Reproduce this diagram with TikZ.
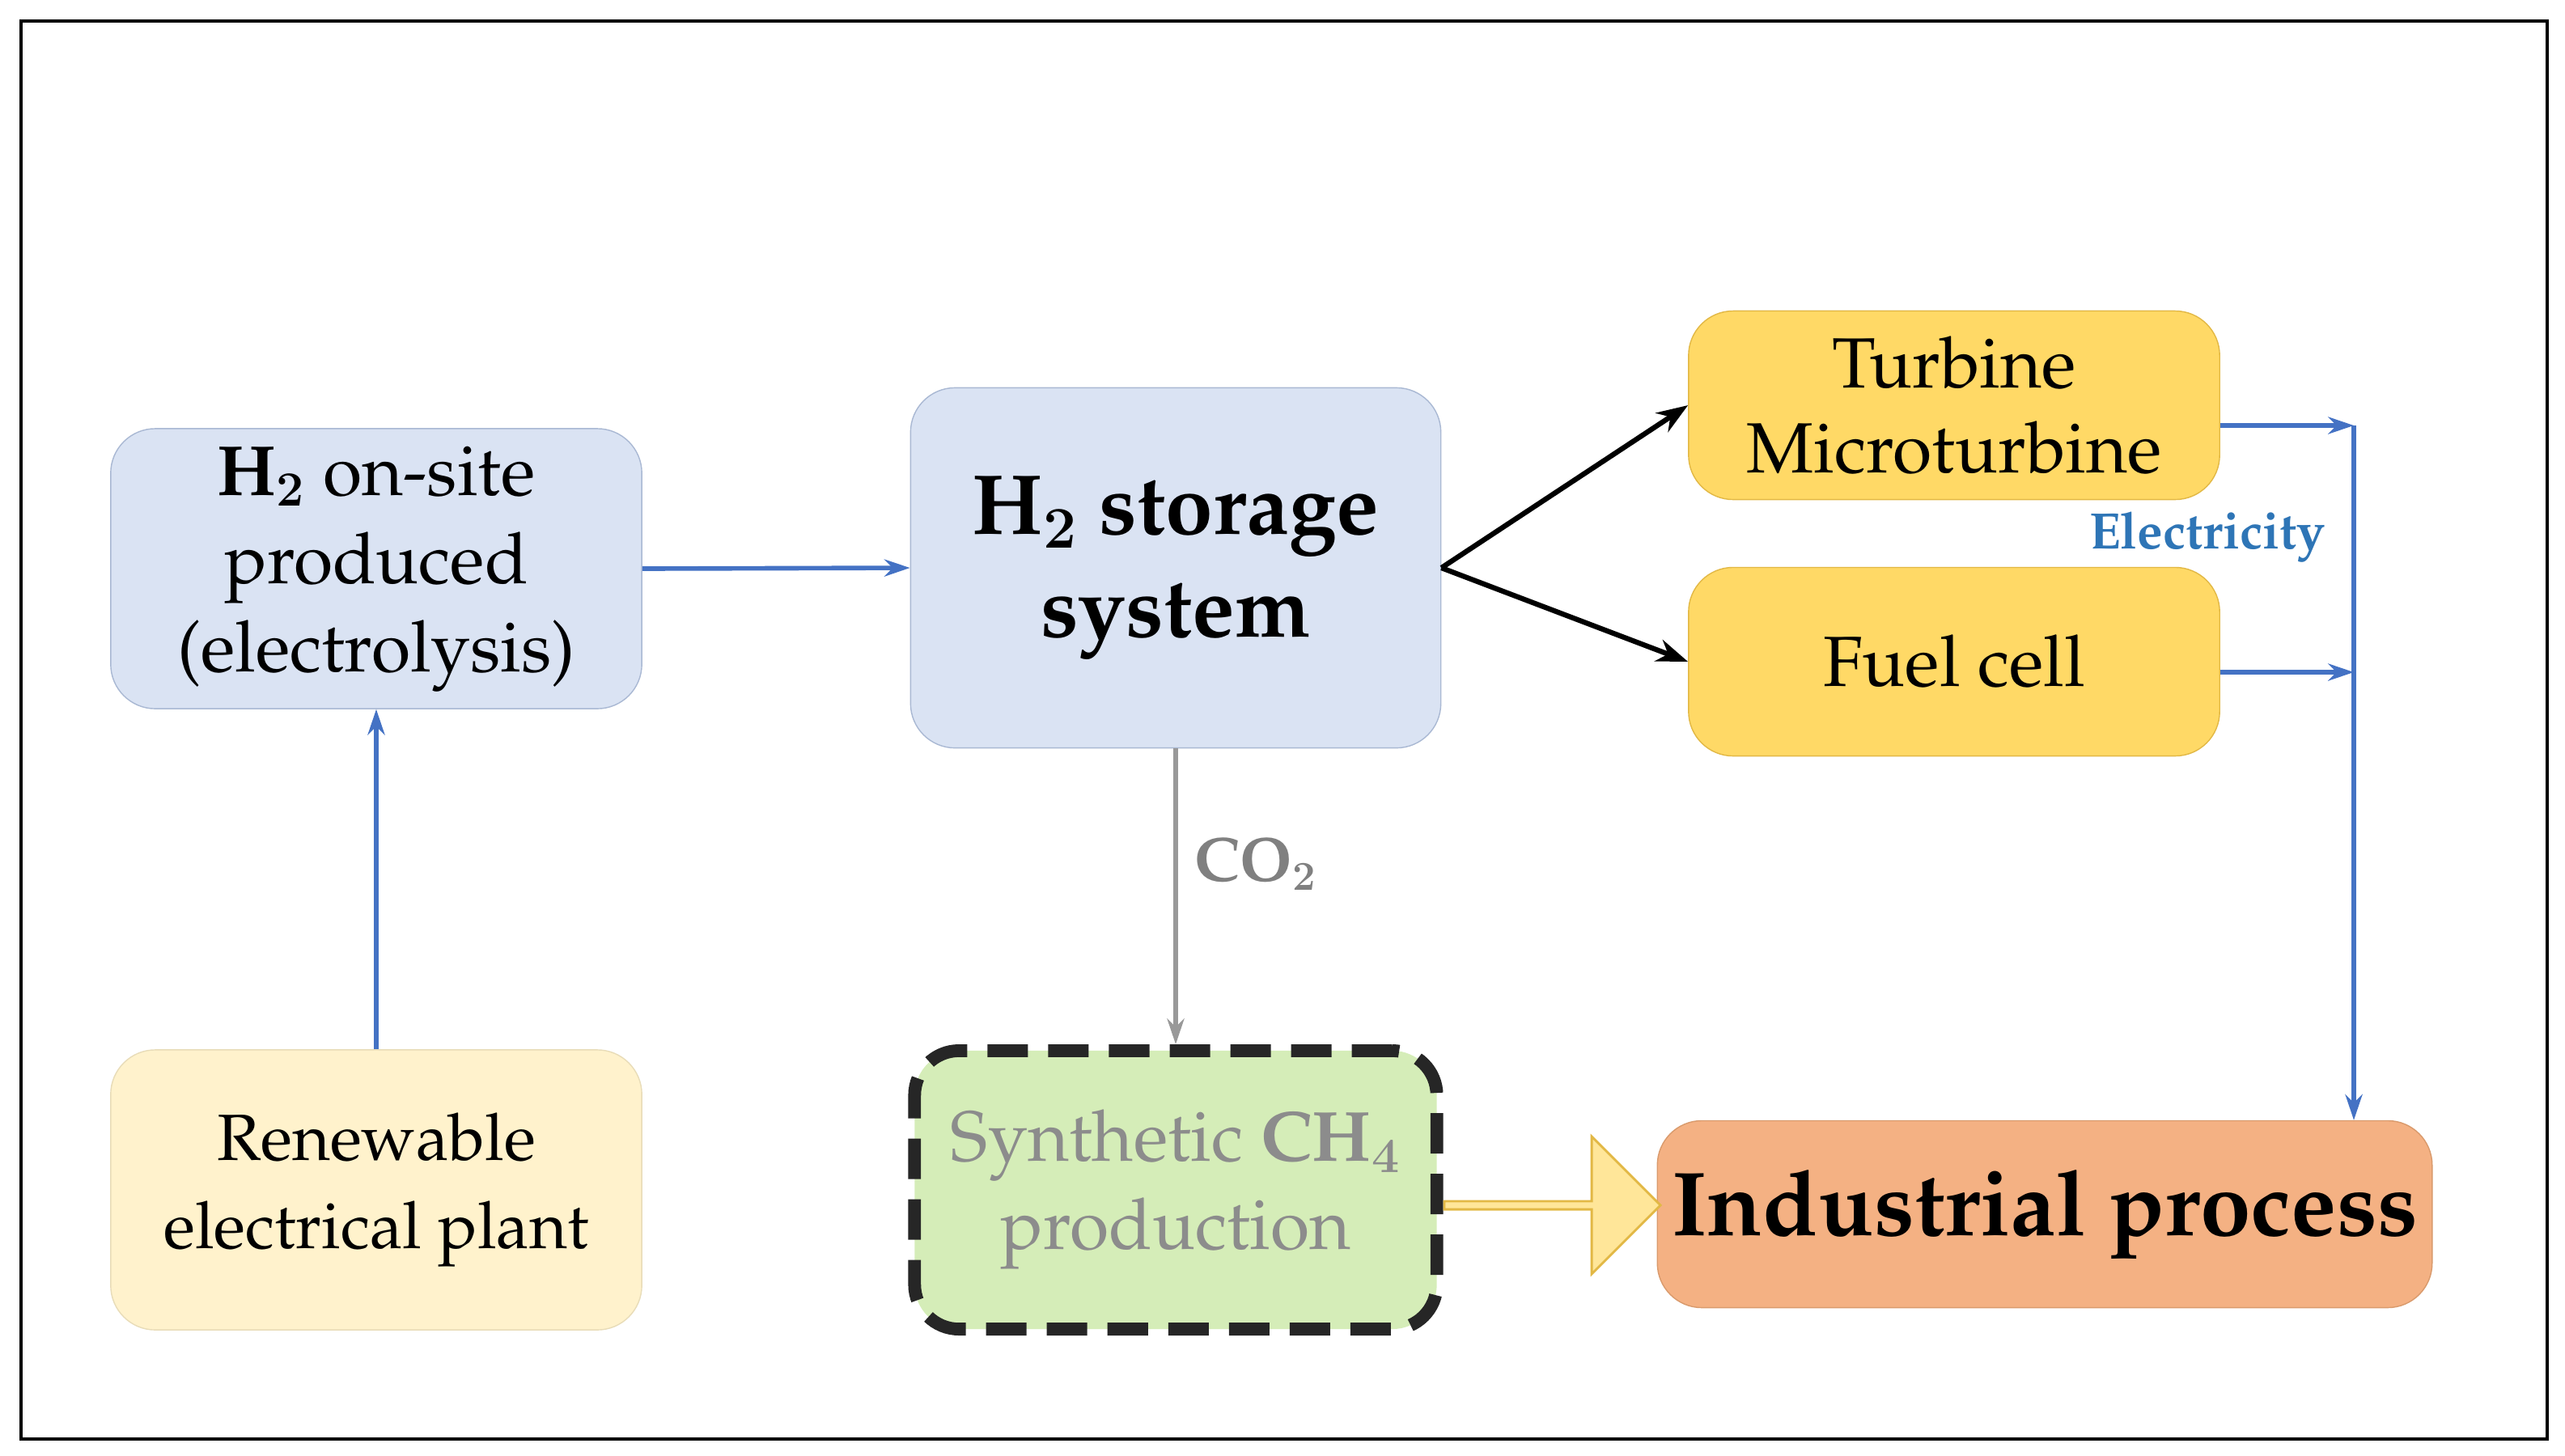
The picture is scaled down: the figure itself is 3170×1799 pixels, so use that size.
\documentclass[tikz,border=0pt]{standalone}
\usepackage[T1]{fontenc}
\renewcommand{\rmdefault}{ppl}
\usetikzlibrary{arrows.meta,shapes.arrows}
\definecolor{bfill}{HTML}{DAE3F3}
\definecolor{bdraw}{HTML}{A9B8D3}
\definecolor{rfill}{HTML}{FFF2CC}
\definecolor{rdraw}{HTML}{E8DCB8}
\definecolor{tfill}{HTML}{FFD966}
\definecolor{tdraw}{HTML}{E2B845}
\definecolor{ifill}{HTML}{F4B183}
\definecolor{idraw}{HTML}{D99A6C}
\definecolor{gfill}{HTML}{D5EDB8}
\definecolor{barrow}{HTML}{4472C4}
\definecolor{etext}{HTML}{2E75B6}
\definecolor{afill}{HTML}{FFE699}
\definecolor{adraw}{HTML}{E2B845}
\begin{document}
\begin{tikzpicture}[x=0.01cm,y=-0.01cm,
  box/.style={rounded corners=0.55cm,align=center,inner sep=0pt},
  blue/.style={draw=barrow,line width=1.6pt,-{Stealth[length=9pt,width=6pt]}}]
\useasboundingbox (0,0) rectangle (3170,1799);
\draw[line width=1pt] (26,26) rectangle (3148,1779);
\node[box,draw=bdraw,fill=bfill,minimum width=6.56cm,minimum height=3.46cm,font=\fontsize{25}{31}\selectfont] (a) at (465,703) {\textbf{H$_{\mathbf 2}$} on-site\\produced\\(electrolysis)};
\node[box,draw=rdraw,fill=rfill,minimum width=6.56cm,minimum height=3.46cm,font=\fontsize{23}{31}\selectfont] (r) at (465,1471) {Renewable\\electrical plant};
\node[box,draw=bdraw,fill=bfill,minimum width=6.55cm,minimum height=4.45cm,font=\fontsize{30}{36}\selectfont\bfseries] (s) at (1453,702) {H$_{\mathbf 2}$ storage\\system};
\node[box,draw=tdraw,fill=tfill,minimum width=6.56cm,minimum height=2.33cm,font=\fontsize{25}{30}\selectfont] (t) at (2415,501) {Turbine\\Microturbine};
\node[box,draw=tdraw,fill=tfill,minimum width=6.56cm,minimum height=2.33cm,font=\fontsize{25}{30}\selectfont] (f) at (2415,818) {Fuel cell};
\node[box,draw=idraw,fill=ifill,minimum width=9.57cm,minimum height=2.31cm,font=\fontsize{32}{36}\selectfont\bfseries] (i) at (2527,1501) {Industrial process};
\node[box,draw=black!85,dash pattern=on 0.5cm off 0.25cm,line width=4.5pt,fill=gfill,minimum width=6.45cm,minimum height=3.44cm,text=black!45,font=\fontsize{25}{31}\selectfont] (g) at (1453,1471) {Synthetic \textbf{CH$_{\mathbf 4}$}\\production};
\node[single arrow,draw=adraw,fill=afill,line width=0.8pt,minimum height=2.67cm,minimum width=1.7cm,single arrow head extend=0.22cm,inner sep=0pt,anchor=tail] (ya) at (g.east |- 0,1490) {};
\draw[blue] (r.north) -- (a.south);
\draw[blue] (a.east) -- (s.west);
\draw[line width=1.8pt,-{Stealth[length=11pt,width=8pt]}] (s.east) -- (t.west);
\draw[line width=1.8pt,-{Stealth[length=11pt,width=8pt]}] (s.east) -- (f.west);
\coordinate (j1) at (2909,526);
\coordinate (j2) at (2909,831);
\draw[blue] (t.east |- j1) -- (j1);
\draw[blue] (f.east |- j2) -- (j2);
\draw[blue] (j1) -- (j1 |- i.north);
\node[font=\fontsize{18}{20}\selectfont\bfseries,text=etext] (el) at (2728,664) {Electricity};
\draw[draw=black!40,line width=1.6pt,-{Stealth[length=9pt,width=6pt]}] (s.south) -- (g.north);
\node[font=\fontsize{22}{24}\selectfont\bfseries,text=black!50] (co) at (1552,1068) {CO$_{\mathbf 2}$};
\end{tikzpicture}
\end{document}
